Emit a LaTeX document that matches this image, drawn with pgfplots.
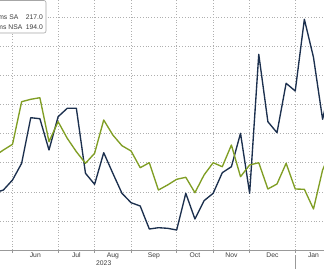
\documentclass[border=0pt]{standalone}
\usepackage{pgfplots}
\pgfplotsset{compat=1.18}
\usepackage{fontspec}
\setmainfont{Liberation Sans}
\definecolor{navy}{RGB}{28,48,78}
\definecolor{olive}{RGB}{128,158,36}
\definecolor{gridc}{RGB}{175,175,175}
\definecolor{txt}{RGB}{60,60,60}
\begin{document}
\begin{tikzpicture}
\useasboundingbox (0,0) rectangle (324bp,269bp);
\begin{axis}[
  at={(0,19bp)}, anchor=south west,
  scale only axis, width=324bp, height=250bp,
  xmin=-0.373, xmax=35.154, ymin=-1, ymax=249,
  axis x line*=bottom, axis y line*=left,
  x axis line style={draw=gray!80, line width=0.6bp, -},
  y axis line style={draw=none},
  xtick={1,6,10,14,19,23,27,32}, xticklabels={},
  ytick={28,57.1,86.2,115.3,144.4,173.5,202.6,231.7}, yticklabels={},
  ytick style={draw=none},
  xtick style={draw=gray!80, line width=0.6bp},
  tick align=outside, major tick length=2.5bp,
  grid=major,
  major grid style={draw=gridc, line width=0.6bp, dash pattern=on 0.8bp off 2bp},
  extra x ticks={3.5,8,12,16.5,21,25,29.5,34},
  extra x tick labels={Jun,Jul,Aug,Sep,Oct,Nov,Dec,Jan},
  extra x tick style={grid=none, major tick length=0pt},
  xticklabel style={font=\fontsize{6.8}{8}\selectfont, text=txt, inner sep=0pt, yshift=-2.5bp},
  clip=true,
]
\addplot[navy, line width=1.35bp, line join=round] coordinates {
(-1,56) (0,59) (1,69) (2,85.7) (3,131.3) (4,130.3) (5,99) (6,132.3) (7,140.7) (8,140.7)
(9,75.7) (10,64.7) (11,96.3) (12,75.7) (13,55.7) (14,46.3) (15,43) (16,20) (17,21.3)
(18,20.7) (19,19) (20,55.7) (21,30) (22,48.3) (23,55.7) (24,76.3) (25,82.3) (26,115.7)
(27,55.7) (28,194.7) (29,127.3) (30,116.3) (31,165.7) (32,158) (33,229.7) (34,191.7)
(35,129.7) (36,170)
};
\addplot[olive, line width=1.35bp, line join=round] coordinates {
(-1,92.8) (0,99) (1,104.7) (2,147.3) (3,149.7) (4,151.3) (5,107.3) (6,127.3) (7,110.7)
(8,97.3) (9,85.7) (10,95.7) (11,129) (12,114) (13,103.3) (14,98) (15,81.3) (16,86.3)
(17,59) (18,64) (19,69.7) (20,71.7) (21,56.3) (22,74) (23,86.3) (24,82.3) (25,104)
(26,72.3) (27,84) (28,86.3) (29,60) (30,65) (31,85.7) (32,60) (33,59.7) (34,40)
(35,79) (36,100)
};
\end{axis}
\node[anchor=north west, inner sep=0pt, font=\fontsize{6.8}{8}\selectfont, text=txt] at (96bp,8.5bp) {2023};
\draw[gray!80, line width=0.6bp] (295.2bp,14bp) -- (295.2bp,0bp);
% legend box
\draw[gray!70, fill=white, line width=0.6bp, rounded corners=2bp] (-30bp,236bp) rectangle (46bp,268.5bp);
\node[anchor=base east, inner sep=0pt, font=\fontsize{6.8}{8}\selectfont, text=txt] at (18.5bp,249.5bp) {Claims SA};
\node[anchor=base east, inner sep=0pt, font=\fontsize{6.8}{8}\selectfont, text=txt] at (43bp,249.5bp) {217.0};
\node[anchor=base east, inner sep=0pt, font=\fontsize{6.8}{8}\selectfont, text=txt] at (22.5bp,239.5bp) {Claims NSA};
\node[anchor=base east, inner sep=0pt, font=\fontsize{6.8}{8}\selectfont, text=txt] at (43bp,239.5bp) {194.0};
\end{tikzpicture}
\end{document}
